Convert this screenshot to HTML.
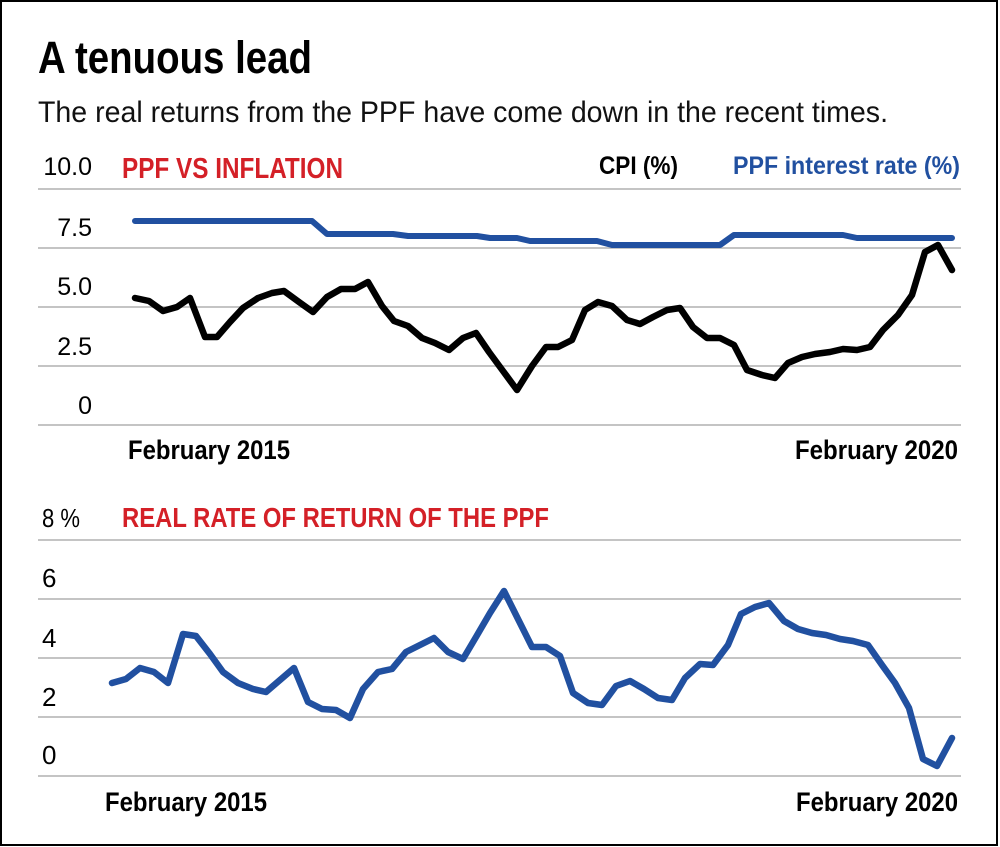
<!DOCTYPE html>
<html>
<head>
<meta charset="utf-8">
<style>
  html,body{margin:0;padding:0;background:#fff;}
  svg{display:block;}
  text{font-family:"Liberation Sans", Arial, sans-serif;}
</style>
</head>
<body>
<svg width="1000" height="847" viewBox="0 0 1000 847" xmlns="http://www.w3.org/2000/svg">
  <rect x="0" y="0" width="1000" height="847" fill="#fff"/>
  <rect x="1" y="1" width="996" height="844" fill="none" stroke="#000" stroke-width="2"/>

  <!-- Title -->
  <text x="38" y="73" font-size="45" font-weight="bold" fill="#000" textLength="274" lengthAdjust="spacingAndGlyphs">A tenuous lead</text>
  <text x="38" y="122" font-size="30" fill="#111" textLength="850" lengthAdjust="spacingAndGlyphs">The real returns from the PPF have come down in the recent times.</text>

  <!-- Top chart gridlines -->
  <g stroke="#c4c4c4" stroke-width="2">
    <line x1="38" y1="189" x2="961" y2="189"/>
    <line x1="38" y1="248" x2="961" y2="248"/>
    <line x1="38" y1="307" x2="961" y2="307"/>
    <line x1="38" y1="366" x2="961" y2="366"/>
    <line x1="38" y1="425" x2="961" y2="425"/>
  </g>
  <g font-size="25" fill="#000" text-anchor="end">
    <text x="92" y="175">10.0</text>
    <text x="92" y="236">7.5</text>
    <text x="92" y="295">5.0</text>
    <text x="92" y="355">2.5</text>
    <text x="92" y="414">0</text>
  </g>
  <text x="122" y="178" font-size="29" font-weight="bold" fill="#d42027" textLength="221" lengthAdjust="spacingAndGlyphs">PPF VS INFLATION</text>
  <text x="599" y="174" font-size="25" font-weight="bold" fill="#000" textLength="79" lengthAdjust="spacingAndGlyphs">CPI (%)</text>
  <text x="733" y="174" font-size="25" font-weight="bold" fill="#2150a0" textLength="227" lengthAdjust="spacingAndGlyphs">PPF interest rate (%)</text>

  <!-- Top chart lines -->
  <polyline fill="none" stroke="#2150a0" stroke-width="6" stroke-linecap="round" stroke-linejoin="round"
    points="135,221 312,221 327,234 393,234 408,236 477,236 490,238 517,238 530,241 597,241 612,245 720,245 734,235 843,235 857,238 952,238"/>
  <polyline fill="none" stroke="#000" stroke-width="6.5" stroke-linecap="round" stroke-linejoin="round"
    points="135,298 149,301 163,311 177,307 190,298 205,337 217,337 230,322 243,308 258,298 272,293 284,291 299,302 313,312 327,297 341,289 355,289 368,282 382,306 394,321 408,326 422,338 435,343 449,350 463,338 476,333 489,352 503,371 517,390 532,366 546,347 558,347 572,340 585,310 598,302 612,306 627,320 640,324 653,317 667,310 680,308 693,327 707,338 720,338 734,345 747,370 762,375 775,378 788,363 802,357 815,354 830,352 843,349 857,350 870,347 883,330 898,315 912,295 925,252 938,245 952,270"/>

  <text x="128" y="459" font-size="27" font-weight="bold" fill="#000" textLength="162" lengthAdjust="spacingAndGlyphs">February 2015</text>
  <text x="795" y="459" font-size="27" font-weight="bold" fill="#000" textLength="163" lengthAdjust="spacingAndGlyphs">February 2020</text>

  <!-- Bottom chart gridlines -->
  <g stroke="#c4c4c4" stroke-width="2">
    <line x1="38" y1="540" x2="961" y2="540"/>
    <line x1="38" y1="599" x2="961" y2="599"/>
    <line x1="38" y1="658" x2="961" y2="658"/>
    <line x1="38" y1="717" x2="961" y2="717"/>
    <line x1="38" y1="776" x2="961" y2="776"/>
  </g>
  <g font-size="26" fill="#000">
    <text x="42" y="527" textLength="38" lengthAdjust="spacingAndGlyphs">8 %</text>
    <text x="42" y="587">6</text>
    <text x="42" y="647">4</text>
    <text x="42" y="706">2</text>
    <text x="42" y="764">0</text>
  </g>
  <text x="122" y="527" font-size="28" font-weight="bold" fill="#d42027" textLength="427" lengthAdjust="spacingAndGlyphs">REAL RATE OF RETURN OF THE PPF</text>

  <polyline fill="none" stroke="#2150a0" stroke-width="6.5" stroke-linecap="round" stroke-linejoin="round"
    points="112,683 126,679 140,668 154,672 168,683 183,634 196,636 210,654 223,672 238,683 253,689 266,692 280,680 294,668 308,702 322,709 336,710 350,718 363,689 378,672 392,669 406,652 420,645 434,638 448,652 463,659 476,637 490,613 504,591 518,619 532,647 546,647 560,656 573,693 588,703 602,705 616,686 630,681 644,689 658,698 672,700 685,678 700,664 713,665 728,645 741,614 755,607 769,603 784,621 798,629 812,633 826,635 840,639 853,641 868,645 882,665 895,683 909,708 923,759 937,766 952,738"/>

  <text x="105" y="811" font-size="27" font-weight="bold" fill="#000" textLength="162" lengthAdjust="spacingAndGlyphs">February 2015</text>
  <text x="796" y="811" font-size="27" font-weight="bold" fill="#000" textLength="162" lengthAdjust="spacingAndGlyphs">February 2020</text>
</svg>
</body>
</html>
